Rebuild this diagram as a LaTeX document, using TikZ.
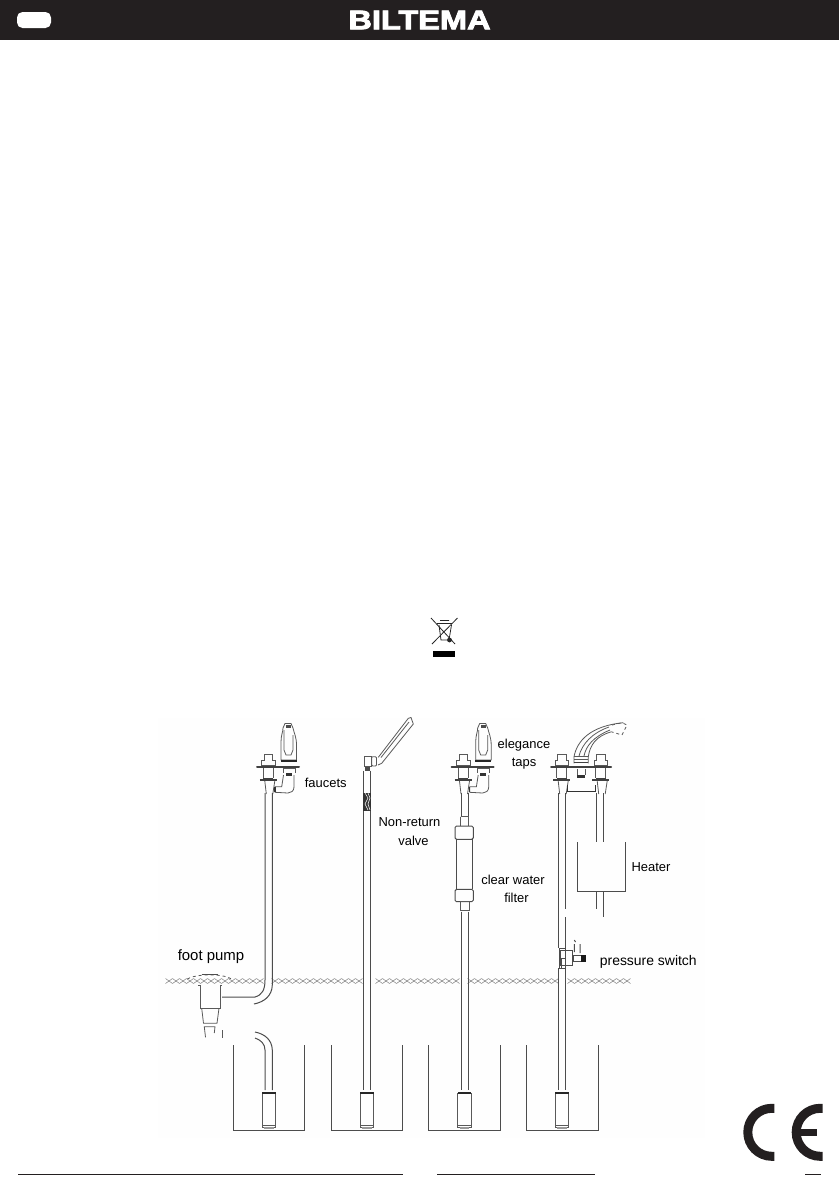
\documentclass[tikz,border=0pt]{standalone}
\usepackage{fontspec}
\setmainfont{Liberation Sans}
\newfontfamily\logofont[FakeBold=3]{Liberation Sans Bold}
\usepackage{tikz}
\definecolor{barblack}{HTML}{231F20}
\tikzset{
  pipeline/.style={draw=black!70,line width=1bp},
  thinline/.style={draw=black!65,line width=0.8bp},
  label/.style={inner sep=0pt,font=\fontsize{13}{18}\selectfont,text=black,align=center},
  tapknob/.pic={
    % knob, collar and ledge around x=0
    \draw[thinline] (-6.5,765) -- (-6.5,760) -- (-4,760) -- (-4,754.5) -- (4.5,754.5) -- (4.5,760) -- (7,760) -- (7,765) -- cycle;
    \draw[thinline] (-5,768) -- (-5,778) (5,768) -- (5,778);
    \fill[black!75] (-5,777.5) rectangle (5,779);
    \draw[draw=black!75,line width=1.2bp] (-8.5,780) -- (8.5,780);
    \draw[thinline] (-3.5,781) -- (-2,794) (6.5,781) -- (4.5,794);
  },
  faucet/.pic={
    \path (268.3,0) pic {tapknob};
    \draw[draw=black!75,line width=2bp,line cap=round] (257,767.2) -- (299,767.2);
    % lever
    \draw[thinline] (281,760) -- (281,742) .. controls (281,735) and (283,732) .. (283,728) -- (285,723.5) -- (291,723.5) -- (293,728) .. controls (294,733) and (296.5,737) .. (296.5,745) -- (296.5,760) -- cycle;
    \draw[thinline] (284,730) -- (284,750) -- (286,755) -- (291,755) -- (293,750) -- (293,735);
    \fill[black!70] (286,724.5) rectangle (291,727.5);
    \fill[black!85] (280.7,760) rectangle (296.7,762.3);
    % spout and elbow
    \draw[thinline] (283,768) -- (283,773) (295,768) -- (295,773) (283,768) -- (295,768);
    \fill[black!80] (285.5,773) rectangle (291.5,775.5);
    \draw[thinline] (294,775) -- (294,787) .. controls (294,791) and (291,793) .. (288,793) -- (275,792.3) -- (275,786.7) -- (281.7,786.7) -- (283.5,775);
    \draw[draw=black!80,line width=1.2bp] (275,786.7) -- (275,792.3);
  }
}

\begin{document}
\begin{tikzpicture}[x=1bp,y=-1bp]
\useasboundingbox (0,0) rectangle (839,1191);

% faint panel behind the drawing
\fill[black!0.4] (158,718) rectangle (705,1138);

% header bar
\fill[barblack] (0,0) rectangle (839,40);
\fill[white,rounded corners=5.5bp] (17,12) rectangle (51,28);
\node (logo) at (419.5,20) [text=white,inner sep=0pt,xscale=1.21,font=\logofont\fontsize{27}{27}\selectfont] {BILTEMA};

% crossed bin
\draw[black!85,line width=0.8bp] (431,618) -- (455,644) (457.5,618) -- (432,644);
\draw[black!85,line width=0.8bp] (437,623.5) -- (452,623.5) (439,625) -- (441,640) -- (449,640) -- (451.5,625) (440,620.5) -- (449,620.5);
\fill[black!85] (449.5,640) circle (2.4);
\fill[black] (432.7,651) rectangle (455,657.3);

% wells and pumps
\foreach \wl/\wr/\pl in {233.3/304.3/262,331.3/402.3/360,428/500/457.7,526/598/555}{
  \draw[pipeline] (\wl,1045) -- (\wl,1130) -- (\wr,1130) -- (\wr,1045);
  \draw[thinline] (\pl,1093) rectangle (\pl+13.5,1127);
  \draw[thinline] (\pl,1125) -- (\pl+13.5,1125);
  \fill[black!85] (\pl,1092) rectangle (\pl+13.5,1093.5);
  \fill[black!40] (\pl+2,1127) rectangle (\pl+11.5,1129);
}

% ground
\foreach \xa/\xb in {169/262,275/361,379/458,471/556,571/629}{
  \foreach \cx in {\xa,\the\numexpr\xa+7\relax,...,\xb}{
    \draw[black!50,line width=0.5bp] (\cx-3.5,978.5) -- (\cx+3.5,983.5) (\cx-3.5,983.5) -- (\cx+3.5,978.5);
  }
}

% first line
\path (0,0) pic {faucet};
\draw[pipeline] (265,793) -- (265,980) .. controls (265,990) and (262,995) .. (255,997) -- (222,997);
\draw[pipeline] (272.3,793) -- (272.3,985) .. controls (272,996) and (264,1002) .. (254,1004);
\draw[pipeline] (255,1032) .. controls (265,1034) and (272,1040) .. (272.3,1050) -- (272.3,1090);
\draw[pipeline] (255,1038) .. controls (261,1040) and (265,1044) .. (265,1050) -- (265,1090);
% foot pump
\draw[thinline,dashed] (187.3,979) .. controls (195,974) and (222,973) .. (231.7,979);
\draw[draw=black!70,line width=1.2bp] (201.7,974.3) -- (218.3,974.3);
\draw[thinline] (198,985) -- (200,985) -- (200,1008.3) -- (220,1008.3) -- (220,985) -- (222,985);
\draw[thinline] (201.7,1008.3) -- (203.5,1023.3) -- (217,1023.3) -- (219,1008.3);
\draw[thinline] (205.5,1037.3) -- (204.3,1026.7) -- (215,1026.7) -- (214.3,1033);
\draw[thinline] (222,1030) -- (222,1038.3);

% second line
\draw[pipeline] (363.3,770.7) -- (363.3,1090) (370.7,770.7) -- (370.7,1090);
\fill[black!80] (363.3,792.7) rectangle (370.7,810.7);
\draw[white,line width=0.5bp] (365,793) -- (368,798) -- (365,804) -- (368,810) (368,793) -- (370,798) -- (368,804) -- (370,810);
\draw[thinline] (364.3,766.7) -- (364.3,756) -- (371.7,756) -- (371.7,766.7) -- cycle;
\draw[thinline,rounded corners=1bp] (371.7,756.7) rectangle (376.5,766);
\draw[thinline] (378.3,757.3) -- (408.3,718.3) -- (411,717.5) -- (413.3,724) -- (381.7,763.3) -- (378,765);
\draw[thinline] (381,757.5) -- (409,722);
\fill[black!70] (365,767) rectangle (370,770.7);

% third line
\path (194.7,0) pic {faucet};
\draw[pipeline] (461,793) -- (461,816.7) (468.3,793) -- (468.3,816.7);
\draw[thinline] (460.5,816.7) -- (468.5,816.7) -- (468.5,826) (460.5,816.7) -- (460.5,826);
\draw[pipeline,rounded corners=1.5bp] (455,826) rectangle (473.3,839.3);
\draw[pipeline] (456,839.3) -- (456,889.3) (472.3,839.3) -- (472.3,889.3);
\draw[pipeline,rounded corners=1.5bp] (455,889.3) rectangle (473.3,901.7);
\draw[thinline] (460,901.7) rectangle (469.3,910);
\draw[pipeline] (461,911.7) -- (461,1090) (468.3,911.7) -- (468.3,1090);

% fourth line, mixer
\path (561.7,0) pic {tapknob};
\path (600.7,0) pic {tapknob};
\draw[draw=black!75,line width=2bp,line cap=round] (551.2,767.2) -- (611.2,767.2);
\draw[thinline] (574,763.3) -- (574,756.7) .. controls (577,741) and (590,726) .. (623.3,722.7);
\draw[thinline] (588.3,763.3) -- (588.3,756.7) .. controls (590,745) and (596,736) .. (611.7,731.7);
\draw[thinline] (579,756) .. controls (582,744) and (592,733) .. (609,727);
\draw[thinline] (584,756) .. controls (586,746) and (593,737) .. (610,730);
\draw[thinline,dashed] (612,725) -- (622,722.7) -- (627,725) -- (622,735) -- (612,732);
\draw[thinline] (574,759.5) -- (588.3,759.5) (574,756.7) -- (588.3,756.7);
\fill[black!75] (574,761.5) rectangle (588.3,763.3);
\draw[thinline] (577,769) -- (577,775) (585,769) -- (585,775);
\fill[black!80] (577,775) rectangle (585,777.5);
\draw[draw=black!80,line width=1.3bp] (567.3,785) -- (567.3,791.7) -- (595.7,791.7) -- (595.7,785);
\draw[pipeline] (558,793) -- (558,948) (558,968) -- (558,1090);
\draw[pipeline] (565.7,793) -- (565.7,909) (565.7,917) -- (565.7,948) (565.7,968) -- (565.7,1090);
\draw[pipeline] (596,793) -- (596,841.7) (603.7,793) -- (603.7,841.7);
\draw[pipeline] (577.7,842.3) -- (577.7,891.3) -- (625.3,891.3) -- (625.3,842.3);
\draw[pipeline] (596,891.3) -- (596,909) (603.7,891.3) -- (603.7,916.7);
% pressure switch
\draw[pipeline] (559,948.3) rectangle (565.5,968);
\draw[pipeline] (560,950) rectangle (572.7,965);
\draw[pipeline] (561.5,958) rectangle (565.5,968);
\draw[pipeline] (573.3,955) rectangle (585,961.7);
\fill[black!90] (581,955) rectangle (585.5,962);
\draw[pipeline] (574.3,952) -- (574.3,944) (574.3,940) -- (575.5,942) (580,953) -- (580,944);

% labels
\node (foot) at (211,957) [label,font=\fontsize{15}{18}\selectfont] {foot pump};
\node (faucets) at (325.7,782.5) [label] {faucets};
\node (valve) at (409.5,832) [label,font=\fontsize{13}{19}\selectfont] {Non-return\\\hspace*{8bp}valve};
\node (taps) at (524,754.3) [label] {elegance\\taps};
\node (filter) at (513,889.2) [label] {clear water\\\hspace*{7bp}filter};
\node (heater) at (651,867.3) [label] {Heater};
\node (switch) at (648.3,961.5) [label,font=\fontsize{14}{18}\selectfont] {pressure switch};

% CE mark
\draw[barblack,line width=9bp] (774.3,1108.3) -- (771.8,1108.3) arc (270:90:24) -- (774.3,1156.3);
\draw[barblack,line width=9bp] (822.7,1108.3) -- (820.2,1108.3) arc (270:90:24) -- (822.7,1156.3);
\fill[barblack] (797,1128.8) rectangle (817.3,1135.8);

% footer rules
\draw[barblack,line width=1.2bp] (18,1174.3) -- (403,1174.3);
\draw[barblack,line width=1.2bp] (437,1174.3) -- (595,1174.3);
\draw[barblack,line width=1.2bp] (805,1174.3) -- (821,1174.3);
\end{tikzpicture}
\end{document}
